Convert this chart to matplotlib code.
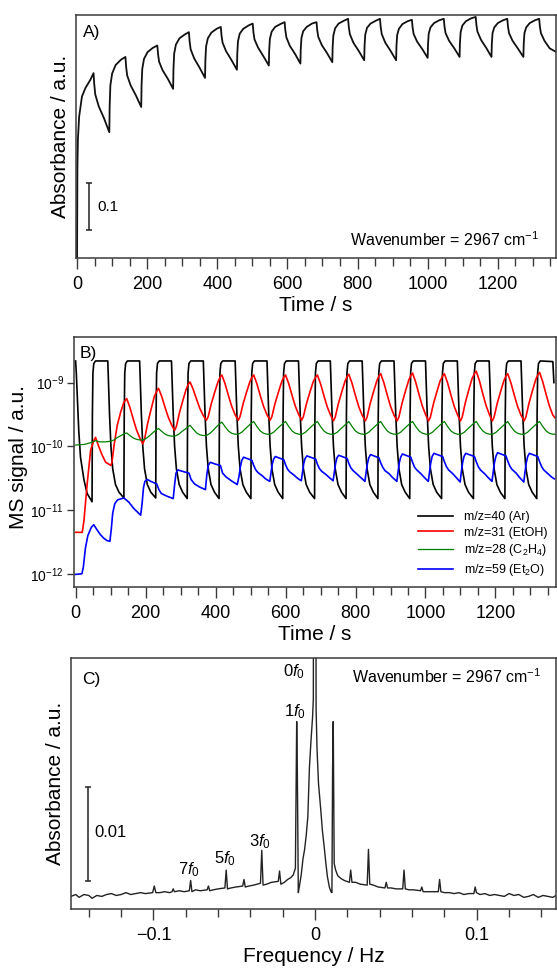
import numpy as np
import matplotlib
matplotlib.use('Agg')
import matplotlib.pyplot as plt
from matplotlib.ticker import MultipleLocator, LogLocator, NullLocator

plt.rcParams['font.family'] = ['Liberation Sans', 'DejaVu Sans']
plt.rcParams['mathtext.fontset'] = 'custom'
plt.rcParams['mathtext.rm'] = 'Liberation Sans'
plt.rcParams['mathtext.it'] = 'Liberation Sans:italic'
plt.rcParams['mathtext.bf'] = 'Liberation Sans:bold'

# ---------------- A) absorbance at 2967 cm-1 vs time ----------------
a_time = [0, 1, 2.5, 6, 14, 24, 38, 47,
          49, 52, 62, 77, 92, 93, 95, 100, 110, 125, 138,
          140, 143, 153, 168, 183, 184, 186, 191, 201, 216, 229,
          231, 234, 244, 259, 274, 275, 277, 282, 292, 307, 319,
          321, 324, 334, 349, 365, 366, 368, 373, 383, 398, 410,
          412, 415, 425, 440, 456, 457, 459, 464, 474, 489, 501,
          503, 506, 516, 531, 547, 548, 550, 555, 565, 580, 592,
          594, 597, 607, 622, 637, 638, 640, 645, 655, 670, 683,
          685, 688, 698, 713, 728, 729, 731, 736, 746, 761, 773,
          775, 778, 788, 803, 819, 820, 822, 827, 837, 852, 864,
          866, 869, 879, 894, 910, 911, 913, 918, 928, 943, 955,
          957, 960, 970, 985, 1000, 1001, 1003, 1008, 1018, 1033, 1046,
          1048, 1051, 1061, 1076, 1091, 1092, 1094, 1099, 1109, 1124, 1137,
          1139, 1142, 1152, 1167, 1182, 1183, 1185, 1190, 1200, 1215, 1227,
          1229, 1232, 1242, 1257, 1273, 1274, 1276, 1281, 1291, 1306, 1318,
          1320, 1323, 1333, 1348, 1365]
a_abs = [0.0, 0.19, 0.25, 0.297, 0.339, 0.357, 0.374, 0.388,
         0.365, 0.343, 0.318, 0.293, 0.264, 0.319, 0.362, 0.387, 0.405, 0.416, 0.422,
         0.401, 0.383, 0.362, 0.341, 0.317, 0.362, 0.397, 0.418, 0.432, 0.441, 0.446,
         0.428, 0.412, 0.394, 0.376, 0.355, 0.397, 0.429, 0.448, 0.461, 0.469, 0.474,
         0.455, 0.438, 0.419, 0.400, 0.378, 0.415, 0.444, 0.461, 0.473, 0.481, 0.485,
         0.467, 0.452, 0.434, 0.416, 0.395, 0.429, 0.455, 0.471, 0.481, 0.488, 0.492,
         0.474, 0.459, 0.442, 0.424, 0.404, 0.436, 0.460, 0.475, 0.485, 0.491, 0.495,
         0.478, 0.463, 0.445, 0.428, 0.408, 0.438, 0.462, 0.476, 0.485, 0.492, 0.495,
         0.478, 0.464, 0.447, 0.430, 0.411, 0.443, 0.467, 0.482, 0.492, 0.498, 0.502,
         0.485, 0.470, 0.452, 0.435, 0.415, 0.445, 0.469, 0.483, 0.492, 0.498, 0.502,
         0.485, 0.470, 0.452, 0.435, 0.415, 0.445, 0.468, 0.481, 0.491, 0.497, 0.500,
         0.484, 0.470, 0.454, 0.438, 0.420, 0.449, 0.471, 0.484, 0.493, 0.499, 0.502,
         0.486, 0.472, 0.456, 0.440, 0.422, 0.451, 0.474, 0.488, 0.497, 0.503, 0.506,
         0.489, 0.475, 0.458, 0.441, 0.422, 0.450, 0.472, 0.484, 0.493, 0.499, 0.502,
         0.486, 0.472, 0.456, 0.440, 0.422, 0.450, 0.472, 0.484, 0.493, 0.499, 0.502,
         0.486, 0.472, 0.456, 0.440, 0.433]

# ---------------- B) MS signals (log10 of a.u.) ----------------
ar_time = [0, 2, 5, 9, 14, 24, 33, 47, 48, 49.5, 52, 57,
           92, 94, 97, 101, 106, 114, 124, 138, 139, 140.5, 143, 148,
           183, 185, 188, 192, 197, 205, 215, 229, 230, 231.5, 234, 239,
           274, 276, 279, 283, 288, 296, 306, 319, 320, 321.5, 324, 329,
           365, 367, 370, 374, 379, 387, 397, 410, 411, 412.5, 415, 420,
           456, 458, 461, 465, 470, 478, 488, 501, 502, 503.5, 506, 511,
           547, 549, 552, 556, 561, 569, 579, 592, 593, 594.5, 597, 602,
           637, 639, 642, 646, 651, 659, 669, 683, 684, 685.5, 688, 693,
           728, 730, 733, 737, 742, 750, 760, 773, 774, 775.5, 778, 783,
           819, 821, 824, 828, 833, 841, 851, 864, 865, 866.5, 869, 874,
           910, 912, 915, 919, 924, 932, 942, 955, 956, 957.5, 960, 965,
           1000, 1002, 1005, 1009, 1014, 1022, 1032, 1046, 1047, 1048.5, 1051, 1056,
           1091, 1093, 1096, 1100, 1105, 1113, 1123, 1137, 1138, 1139.5, 1142, 1147,
           1182, 1184, 1187, 1191, 1196, 1204, 1214, 1227, 1228, 1229.5, 1232, 1237,
           1273, 1275, 1278, 1282, 1287, 1295, 1305, 1318, 1319, 1320.5, 1323, 1328,
           1364, 1367]
ar_log = [-8.66, -8.85, -9.23, -9.75, -10.17, -10.53, -10.74, -10.87, -9.5, -8.85, -8.7, -8.66,
          -8.66, -9.0, -9.5, -10.0, -10.35, -10.6, -10.72, -10.81, -9.5, -8.85, -8.7, -8.66,
          -8.66, -9.0, -9.5, -10.0, -10.35, -10.6, -10.72, -10.81, -9.5, -8.85, -8.7, -8.66,
          -8.66, -9.0, -9.5, -10.0, -10.35, -10.6, -10.72, -10.82, -9.5, -8.85, -8.7, -8.66,
          -8.66, -9.0, -9.5, -10.0, -10.35, -10.6, -10.72, -10.82, -9.5, -8.85, -8.7, -8.66,
          -8.66, -9.0, -9.5, -10.0, -10.35, -10.6, -10.72, -10.82, -9.5, -8.85, -8.7, -8.66,
          -8.66, -9.0, -9.5, -10.0, -10.35, -10.6, -10.72, -10.82, -9.5, -8.85, -8.7, -8.66,
          -8.66, -9.0, -9.5, -10.0, -10.35, -10.6, -10.72, -10.82, -9.5, -8.85, -8.7, -8.66,
          -8.66, -9.0, -9.5, -10.0, -10.35, -10.6, -10.72, -10.82, -9.5, -8.85, -8.7, -8.66,
          -8.66, -9.0, -9.5, -10.0, -10.35, -10.6, -10.72, -10.82, -9.5, -8.85, -8.7, -8.66,
          -8.66, -9.0, -9.5, -10.0, -10.35, -10.6, -10.72, -10.82, -9.5, -8.85, -8.7, -8.66,
          -8.66, -9.0, -9.5, -10.0, -10.35, -10.6, -10.72, -10.82, -9.5, -8.85, -8.7, -8.66,
          -8.66, -9.0, -9.5, -10.0, -10.35, -10.6, -10.72, -10.82, -9.5, -8.85, -8.7, -8.66,
          -8.66, -9.0, -9.5, -10.0, -10.35, -10.6, -10.72, -10.82, -9.5, -8.85, -8.7, -8.66,
          -8.66, -9.0, -9.5, -10.0, -10.35, -10.6, -10.72, -10.82, -9.5, -8.85, -8.7, -8.66,
          -8.67, -9.0]

etoh_time = [0, 19, 24, 33, 43, 52, 57, 66, 76, 86, 101,
             104, 110, 119, 129, 138, 146,
             155, 165, 174, 184, 192, 197, 206, 216, 225, 232, 237,
             246, 256, 265, 275, 283, 288, 297, 307, 316, 322, 327,
             336, 346, 355, 365, 374, 379, 388, 398, 407, 413, 418,
             427, 437, 446, 456, 465, 470, 479, 489, 498, 504, 509,
             518, 528, 537, 547, 556, 561, 570, 580, 589, 595, 600,
             609, 619, 628, 638, 646, 651, 660, 670, 679, 686, 691,
             700, 710, 719, 729, 737, 742, 751, 761, 770, 776, 781,
             790, 800, 809, 819, 828, 833, 842, 852, 861, 867, 872,
             881, 891, 900, 910, 919, 924, 933, 943, 952, 958, 963,
             972, 982, 991, 1001, 1009, 1014, 1023, 1033, 1042, 1049, 1054,
             1063, 1073, 1082, 1092, 1100, 1105, 1114, 1124, 1133, 1140, 1145,
             1154, 1164, 1173, 1183, 1191, 1196, 1205, 1215, 1224, 1230, 1235,
             1244, 1254, 1263, 1273, 1282, 1287, 1296, 1306, 1315, 1321, 1326,
             1335, 1345, 1354, 1364, 1370]
etoh_log = [-11.35, -11.35, -11.16, -10.59, -10.06, -9.91, -9.86, -10.0, -10.14, -10.25, -10.30,
            -10.25, -9.98, -9.67, -9.46, -9.31, -9.25,
            -9.385, -9.577, -9.74, -9.875, -9.96, -9.89, -9.638, -9.412, -9.22, -9.133, -9.09,
            -9.215, -9.394, -9.545, -9.671, -9.75, -9.689, -9.469, -9.271, -9.104, -9.028, -8.99,
            -9.104, -9.266, -9.404, -9.518, -9.59, -9.533, -9.327, -9.143, -8.987, -8.916, -8.88,
            -9.015, -9.207, -9.37, -9.505, -9.59, -9.533, -9.327, -9.143, -8.987, -8.916, -8.88,
            -9.015, -9.207, -9.37, -9.505, -9.59, -9.533, -9.327, -9.143, -8.987, -8.916, -8.88,
            -9.015, -9.207, -9.37, -9.505, -9.59, -9.533, -9.327, -9.143, -8.987, -8.916, -8.88,
            -9.017, -9.211, -9.377, -9.514, -9.60, -9.542, -9.33, -9.14, -8.98, -8.906, -8.87,
            -9.009, -9.206, -9.374, -9.512, -9.60, -9.541, -9.326, -9.134, -8.971, -8.897, -8.86,
            -9.001, -9.2, -9.371, -9.511, -9.60, -9.54, -9.323, -9.128, -8.963, -8.888, -8.85,
            -8.993, -9.195, -9.368, -9.51, -9.60, -9.541, -9.326, -9.134, -8.971, -8.897, -8.86,
            -9.001, -9.2, -9.371, -9.511, -9.60, -9.538, -9.311, -9.109, -8.937, -8.859, -8.82,
            -8.968, -9.179, -9.358, -9.506, -9.60, -9.541, -9.326, -9.134, -8.971, -8.897, -8.86,
            -9.001, -9.2, -9.371, -9.511, -9.60, -9.539, -9.319, -9.121, -8.954, -8.878, -8.84,
            -8.984, -9.19, -9.364, -9.509, -9.55]

c2h4_time = [0, 25, 45, 57, 68, 85, 100, 110, 120, 130, 140, 146,
             155, 165, 174, 184, 193, 203, 212, 222, 231, 237,
             246, 256, 265, 275, 284, 294, 303, 313, 322, 327,
             336, 346, 355, 365, 374, 384, 393, 403, 412, 418,
             427, 437, 446, 456, 465, 475, 484, 494, 503, 509,
             518, 528, 537, 547, 556, 566, 575, 585, 594, 600,
             609, 619, 628, 638, 647, 657, 666, 676, 685, 691,
             700, 710, 719, 729, 738, 748, 757, 767, 776, 781,
             790, 800, 809, 819, 828, 838, 847, 857, 866, 872,
             881, 891, 900, 910, 919, 929, 938, 948, 957, 963,
             972, 982, 991, 1001, 1010, 1020, 1029, 1039, 1048, 1054,
             1063, 1073, 1082, 1092, 1101, 1111, 1120, 1130, 1139, 1145,
             1154, 1164, 1173, 1183, 1192, 1202, 1211, 1221, 1230, 1235,
             1244, 1254, 1263, 1273, 1282, 1292, 1301, 1311, 1320, 1326,
             1335, 1345, 1354, 1364, 1370]
c2h4_log = [-9.98, -9.97, -9.94, -9.91, -9.93, -9.93, -9.92, -9.90, -9.86, -9.83, -9.80, -9.79,
            -9.83, -9.87, -9.89, -9.90, -9.90, -9.87, -9.83, -9.78, -9.74, -9.72,
            -9.764, -9.81, -9.83, -9.84, -9.84, -9.813, -9.772, -9.73, -9.69, -9.67,
            -9.729, -9.79, -9.82, -9.83, -9.83, -9.796, -9.75, -9.69, -9.645, -9.62,
            -9.69, -9.76, -9.795, -9.81, -9.81, -9.778, -9.73, -9.68, -9.634, -9.61,
            -9.688, -9.76, -9.794, -9.81, -9.81, -9.778, -9.73, -9.68, -9.634, -9.61,
            -9.688, -9.76, -9.794, -9.81, -9.81, -9.778, -9.73, -9.68, -9.634, -9.61,
            -9.688, -9.76, -9.794, -9.81, -9.81, -9.778, -9.73, -9.68, -9.634, -9.61,
            -9.688, -9.76, -9.794, -9.81, -9.81, -9.778, -9.73, -9.68, -9.634, -9.61,
            -9.688, -9.76, -9.794, -9.81, -9.81, -9.778, -9.73, -9.68, -9.634, -9.61,
            -9.688, -9.76, -9.794, -9.81, -9.81, -9.778, -9.73, -9.68, -9.634, -9.61,
            -9.688, -9.76, -9.794, -9.81, -9.81, -9.778, -9.73, -9.68, -9.634, -9.61,
            -9.688, -9.76, -9.794, -9.81, -9.81, -9.778, -9.73, -9.68, -9.634, -9.61,
            -9.688, -9.76, -9.794, -9.81, -9.81, -9.778, -9.73, -9.68, -9.634, -9.61,
            -9.688, -9.76, -9.794, -9.81, -9.81]

et2o_time = [0, 18, 22, 28, 35, 45, 52, 60, 70, 80, 90, 98,
             102, 106, 112, 120, 138, 152, 167, 186,
             190, 194, 198, 205, 215, 232, 238, 245, 260, 279,
             283, 287, 292, 310, 324, 330, 340, 355, 371,
             375, 379, 385, 400, 414, 420, 430, 445, 462,
             467, 471, 475, 480, 504, 509, 515, 521, 533, 543, 555,
             558, 562, 566, 571, 595, 600, 606, 612, 624, 634, 645,
             648, 652, 656, 661, 686, 691, 697, 703, 715, 725, 736,
             739, 743, 747, 752, 776, 781, 787, 793, 805, 815, 827,
             830, 834, 838, 843, 867, 872, 878, 884, 896, 906, 918,
             921, 925, 929, 934, 958, 963, 969, 975, 987, 997, 1008,
             1011, 1015, 1019, 1024, 1049, 1054, 1060, 1066, 1078, 1088, 1099,
             1102, 1106, 1110, 1115, 1140, 1145, 1151, 1157, 1169, 1179, 1190,
             1193, 1197, 1201, 1206, 1230, 1235, 1241, 1247, 1259, 1269, 1281,
             1284, 1288, 1292, 1297, 1321, 1326, 1332, 1338, 1350, 1360, 1368]
et2o_log = [-12.01, -12.0, -11.9, -11.6, -11.4, -11.27, -11.23, -11.30, -11.38, -11.44, -11.48, -11.49,
            -11.3, -11.05, -10.9, -10.84, -10.81, -10.875, -10.98, -11.08,
            -10.9, -10.65, -10.55, -10.52, -10.55, -10.59, -10.68, -10.74, -10.78, -10.82,
            -10.6, -10.42, -10.37, -10.40, -10.42, -10.52, -10.59, -10.64, -10.68,
            -10.45, -10.3, -10.25, -10.28, -10.30, -10.42, -10.48, -10.54, -10.60,
            -10.47, -10.32, -10.22, -10.17, -10.22, -10.30, -10.37, -10.41, -10.46, -10.51, -10.55,
            -10.43, -10.28, -10.20, -10.16, -10.21, -10.29, -10.36, -10.40, -10.45, -10.50, -10.54,
            -10.42, -10.27, -10.19, -10.15, -10.20, -10.28, -10.35, -10.39, -10.44, -10.49, -10.54,
            -10.42, -10.27, -10.18, -10.14, -10.19, -10.27, -10.34, -10.38, -10.44, -10.49, -10.55,
            -10.42, -10.27, -10.18, -10.13, -10.18, -10.26, -10.33, -10.38, -10.43, -10.49, -10.55,
            -10.42, -10.26, -10.17, -10.12, -10.17, -10.25, -10.33, -10.37, -10.43, -10.49, -10.55,
            -10.42, -10.26, -10.16, -10.11, -10.16, -10.24, -10.32, -10.37, -10.43, -10.49, -10.56,
            -10.42, -10.26, -10.16, -10.11, -10.16, -10.24, -10.32, -10.37, -10.43, -10.49, -10.55,
            -10.42, -10.26, -10.16, -10.10, -10.15, -10.23, -10.31, -10.36, -10.42, -10.49, -10.56,
            -10.42, -10.26, -10.16, -10.11, -10.16, -10.24, -10.32, -10.37, -10.43, -10.48, -10.51]

ms_labels = ['m/z=40 (Ar)', 'm/z=31 (EtOH)', r'm/z=28 (C$_2$H$_4$)', r'm/z=59 (Et$_2$O)']
ms_colors = ['#000000', '#ff0000', '#008000', '#0000ff']

# ---------------- C) Fourier amplitude vs frequency ----------------
freq = [-0.151, -0.148, -0.146, -0.143, -0.140, -0.138, -0.135, -0.132, -0.129, -0.126,
        -0.123, -0.120, -0.117, -0.114, -0.111, -0.108, -0.105, -0.1005, -0.0995, -0.0985,
        -0.096, -0.093, -0.090, -0.0885, -0.0878, -0.087, -0.084, -0.081, -0.0778, -0.0770,
        -0.0762, -0.074, -0.071, -0.0668, -0.0660, -0.0652, -0.063, -0.060, -0.0558, -0.0550,
        -0.0542, -0.052, -0.049, -0.0448, -0.0440, -0.0432, -0.041, -0.038, -0.0338, -0.0330,
        -0.0322, -0.030, -0.027, -0.0228, -0.0220, -0.0212, -0.019, -0.017, -0.015, -0.0135,
        -0.0122, -0.0114, -0.0110, -0.0104, -0.0098, -0.0086, -0.0075, -0.0065, -0.0055, -0.0045,
        -0.0035, -0.0025, -0.0016, -0.0011, -0.0009, 0.0004, 0.0006, 0.0012, 0.0021, 0.0035,
        0.0045, 0.0056, 0.0066, 0.0076, 0.0088, 0.0098, 0.0104, 0.0108, 0.0112, 0.0118, 0.0127,
        0.014, 0.016, 0.018, 0.0212, 0.0220, 0.0228, 0.025, 0.028, 0.0322, 0.0330,
        0.0338, 0.036, 0.039, 0.0432, 0.0440, 0.0448, 0.047, 0.050, 0.0542, 0.0550,
        0.0558, 0.058, 0.061, 0.0652, 0.0660, 0.0668, 0.069, 0.072, 0.0762, 0.0770,
        0.0778, 0.080, 0.083, 0.086, 0.089, 0.092, 0.095, 0.0982, 0.0990, 0.0998,
        0.102, 0.105, 0.108, 0.111, 0.114, 0.117, 0.120, 0.123, 0.126, 0.129,
        0.132, 0.135, 0.138, 0.141, 0.144, 0.147, 0.149]
amp = [0.0000, 0.0002, -0.0001, 0.0002, 0.0001, -0.0002, 0.0001, 0.0000, 0.0002, 0.0003,
       0.0001, 0.0002, 0.0004, 0.0002, 0.0003, 0.0004, 0.0003, 0.0004, 0.0011, 0.0004,
       0.0004, 0.0005, 0.0004, 0.0005, 0.0008, 0.0005, 0.0006, 0.0005, 0.0006, 0.0017,
       0.0005, 0.0007, 0.0006, 0.0007, 0.0011, 0.0006, 0.0007, 0.0008, 0.0009, 0.0028,
       0.0008, 0.0009, 0.0010, 0.0011, 0.0018, 0.0010, 0.0011, 0.0012, 0.0014, 0.0049,
       0.0012, 0.0013, 0.0015, 0.0016, 0.0027, 0.0013, 0.0015, 0.0018, 0.0020, 0.0023,
       0.0030, 0.0186, 0.0135, 0.0004, 0.0010, 0.0023, 0.0040, 0.0050, 0.0065, 0.0085,
       0.0138, 0.0167, 0.0190, 0.0210, 0.0500, 0.0500, 0.0200, 0.0156, 0.0120, 0.0092,
       0.0070, 0.0053, 0.0036, 0.0021, 0.0010, 0.0005, 0.0004, 0.0135, 0.0186, 0.0035, 0.0028,
       0.0022, 0.0019, 0.0017, 0.0015, 0.0028, 0.0015, 0.0015, 0.0013, 0.0012, 0.0050,
       0.0013, 0.0012, 0.0010, 0.0009, 0.0015, 0.0009, 0.0009, 0.0008, 0.0008, 0.0028,
       0.0008, 0.0007, 0.0007, 0.0006, 0.0010, 0.0005, 0.0005, 0.0005, 0.0005, 0.0018,
       0.0005, 0.0004, 0.0004, 0.0003, 0.0004, 0.0002, 0.0003, 0.0003, 0.0010, 0.0004,
       0.0002, 0.0003, 0.0001, 0.0002, 0.0001, 0.0000, 0.0003, 0.0001, 0.0002, -0.0001,
       0.0000, 0.0002, -0.0001, 0.0001, 0.0000, -0.0001, 0.0001]

harm_labels = ['0', '1', '3', '5', '7']
harm_x = [-0.0062, -0.0057, -0.0342, -0.0557, -0.0780]
harm_y = [0.0239, 0.0197, 0.00585, 0.00397, 0.00284]

FW, FH = 557, 974
fig = plt.figure(figsize=(FW / 100, FH / 100), dpi=100)


def box(left, top, right, bottom):
    return [left / FW, 1 - bottom / FH, (right - left) / FW, (bottom - top) / FH]


spine_col = '#3a3a3a'


def style(ax):
    for s in ax.spines.values():
        s.set_color(spine_col)
        s.set_linewidth(1.1)
    ax.tick_params(axis='x', which='both', direction='out', color=spine_col, width=1.0,
                   labelsize=13, top=False)
    ax.tick_params(axis='x', which='major', length=8, pad=5)
    ax.tick_params(axis='x', which='minor', length=5.5)


# ---- panel A
axA = fig.add_axes(box(76, 15, 556, 258))
axA.plot(a_time, a_abs, color='#111111', lw=1.3)
axA.set_xlim(-3, 1366)
axA.set_ylim(0, 0.51)
axA.xaxis.set_major_locator(MultipleLocator(200))
axA.xaxis.set_minor_locator(MultipleLocator(50))
axA.set_yticks([])
style(axA)
axA.set_xlabel('Time / s', fontsize=15, labelpad=2)
axA.set_ylabel('Absorbance / a.u.', fontsize=15)
axA.yaxis.set_label_coords(-0.0125, 0.5)
axA.text(0.015, 0.926, 'A)', transform=axA.transAxes, fontsize=12.5, va='center')
axA.errorbar([35], [0.108], yerr=[0.05], color='#222222', lw=1.1, capsize=2.5, capthick=1.1)
axA.text(57, 0.108, '0.1', fontsize=11, va='center')
axA.text(0.965, 0.074, 'Wavenumber = 2967 cm$^{-1}$', transform=axA.transAxes,
         fontsize=11.5, ha='right', va='center')

# ---- panel B
axB = fig.add_axes(box(73.5, 337, 556, 587))
series = [(ar_time, ar_log, 1.2), (etoh_time, etoh_log, 1.2),
          (c2h4_time, c2h4_log, 0.9), (et2o_time, et2o_log, 1.2)]
for (t, lg, lw), lab, col in zip(series, ms_labels, ms_colors):
    axB.plot(t, 10 ** np.array(lg), color=col, lw=lw, label=lab)
axB.set_yscale('log')
axB.set_ylim(6.2e-13, 5.2e-9)
axB.set_xlim(-6, 1373)
axB.xaxis.set_major_locator(MultipleLocator(200))
axB.xaxis.set_minor_locator(MultipleLocator(50))
axB.yaxis.set_major_locator(LogLocator(base=10, numticks=10))
axB.yaxis.set_minor_locator(NullLocator())
style(axB)
axB.tick_params(axis='y', which='major', direction='out', length=5, width=1.0,
                color=spine_col, labelsize=10, pad=2)
axB.set_xlabel('Time / s', fontsize=15, labelpad=2)
axB.set_ylabel('MS signal / a.u.', fontsize=15)
axB.yaxis.set_label_coords(-0.094, 0.52)
axB.text(0.013, 0.935, 'B)', transform=axB.transAxes, fontsize=12.5, va='center')
axB.legend(loc='lower right', frameon=False, fontsize=9, handlelength=2.8,
           handletextpad=0.9, labelspacing=0.3, borderaxespad=0.3)

# ---- panel C
axC = fig.add_axes(box(71, 658, 556, 909))
axC.plot(freq, amp, color='#222222', lw=1.0)
axC.set_xlim(-0.151, 0.149)
axC.set_ylim(-0.00134, 0.02536)
axC.xaxis.set_major_locator(MultipleLocator(0.1))
axC.xaxis.set_minor_locator(MultipleLocator(0.02))
axC.set_xticks([-0.1, 0, 0.1])
axC.set_xticklabels(['\u22120.1', '0', '0.1'])
axC.set_yticks([])
style(axC)
axC.set_xlabel('Frequency / Hz', fontsize=15, labelpad=2)
axC.set_ylabel('Absorbance / a.u.', fontsize=15)
axC.yaxis.set_label_coords(-0.012, 0.5)
axC.text(0.022, 0.913, 'C)', transform=axC.transAxes, fontsize=12.5, va='center')
axC.errorbar([-0.1405], [0.00664], yerr=[0.005], color='#222222', lw=1.1, capsize=2.5,
             capthick=1.1)
axC.text(-0.1365, 0.0068, '0.01', fontsize=12, va='center')
axC.text(0.969, 0.927, 'Wavenumber = 2967 cm$^{-1}$', transform=axC.transAxes,
         fontsize=11.5, ha='right', va='center')
for lab, hx, hy in zip(harm_labels, harm_x, harm_y):
    ha = 'right' if lab in ('0', '1') else 'center'
    axC.text(hx, hy, lab + r'$\mathit{f}_0$', fontsize=12, ha=ha, va='center')

fig.savefig('out.png', dpi=100)
